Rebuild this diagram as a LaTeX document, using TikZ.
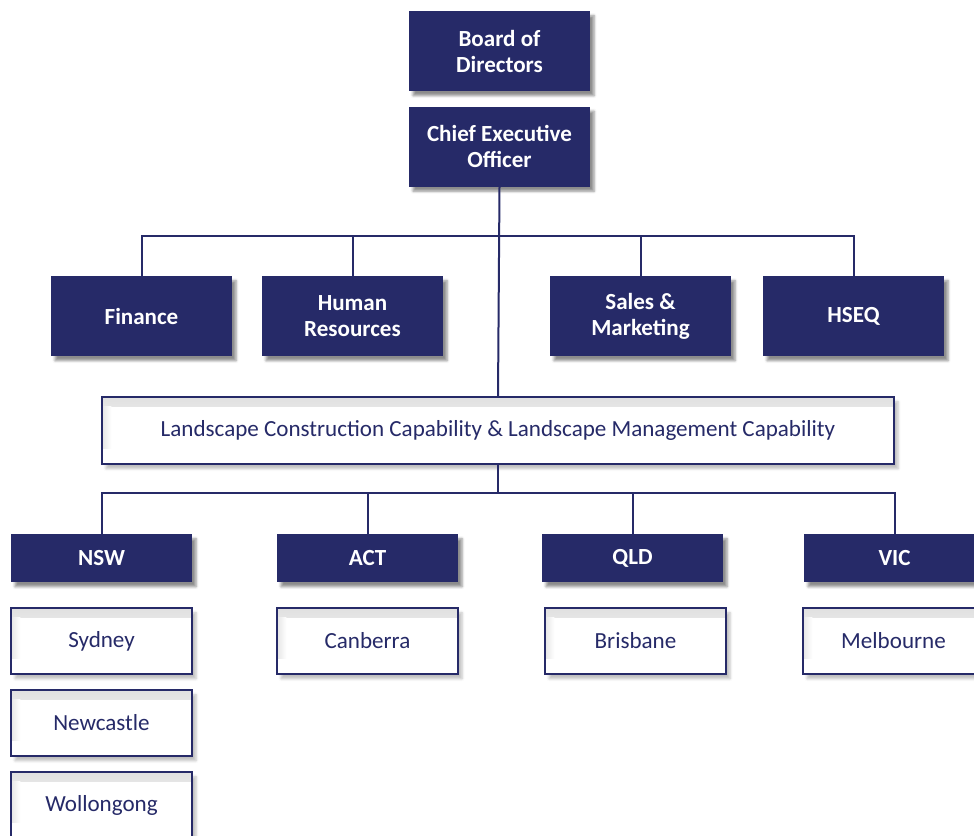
\documentclass[tikz,border=0pt]{standalone}
\usepackage{fontspec}
\setmainfont{Carlito}
\usetikzlibrary{shadows.blur}
\definecolor{navy}{RGB}{38,42,104}

\tikzset{
	darkbox/.style={fill=navy, text=white, font=\bfseries\fontsize{17.3}{19.5}\selectfont, align=center,
		minimum width=135.75pt, inner sep=0pt,
		blur shadow={shadow xshift=3pt, shadow yshift=-3.5pt, shadow opacity=45}},
	tall/.style={minimum height=60pt},
	flat/.style={minimum height=36pt},
	lightbox/.style={draw=navy, line width=1.2pt, fill=white, text=navy, font=\fontsize{17.3}{19.5}\selectfont,
		minimum width=135.75pt, minimum height=49.5pt, inner sep=0pt,
		blur shadow={shadow xshift=3pt, shadow yshift=-3.5pt, shadow opacity=25},
		path picture={
			\shade[top color=black!12, bottom color=white] (path picture bounding box.north west) rectangle ([yshift=-7pt]path picture bounding box.north east);
			\shade[left color=black!10, right color=white] ([yshift=-7pt]path picture bounding box.north west) rectangle ([xshift=7pt,yshift=12pt]path picture bounding box.south west);
		}},
	link/.style={draw=navy, line width=1.5pt}
}

\begin{document}
\begin{tikzpicture}[x=0.75pt,y=-0.75pt]
		\useasboundingbox (0,0) rectangle (974,835);
		\node[darkbox,tall] (board) at (499.5,51) {Board of\\Directors};
		\node[darkbox,tall] (ceo) at (499.5,146.5) {Chief Executive\\Officer};
		\foreach \name/\px/\txt in {fin/141.5/Finance, hr/352.5/{Human\\Resources}, sales/640.5/{Sales \&\\Marketing}, hseq/853.5/HSEQ}{
		\node[darkbox,tall] (\name) at (\px,316) {\txt};
		}
		\node[lightbox,minimum width=594pt,minimum height=50.25pt] (lc) at (498,430.5) {Landscape Construction Capability \& Landscape Management Capability};
		\foreach \name/\px in {NSW/101.5, ACT/367.5, QLD/632.5, VIC/894.5}{
		\node[darkbox,flat] (\name) at (\px,558) {\name};
		}
		\foreach \name/\px/\py in {Sydney/101.5/641, Newcastle/101.5/723, Wollongong/101.5/805, Canberra/367.5/641, Brisbane/635.5/641, Melbourne/893.5/641}{
		\node[lightbox] (\name) at (\px,\py) {\name};
		}
		% connectors
		\coordinate (top bar) at (499.5,236);
		\coordinate (low bar) at (498,493);
		\draw[link] (ceo.south) -- (lc.north);
		\draw[link] (fin.north) -- (fin.north |- top bar) -- (hseq.north |- top bar) -- (hseq.north);
		\draw[link] (hr.north) -- (hr.north |- top bar);
		\draw[link] (sales.north) -- (sales.north |- top bar);
		\draw[link] (lc.south) -- (lc.south |- low bar);
		\draw[link] ([xshift=0.5pt]NSW.north) -- ([xshift=0.5pt]NSW.north |- low bar) -- (VIC.north |- low bar) -- (VIC.north);
		\draw[link] (ACT.north) -- (ACT.north |- low bar);
		\draw[link] (QLD.north) -- (QLD.north |- low bar);
\end{tikzpicture}
\end{document}
